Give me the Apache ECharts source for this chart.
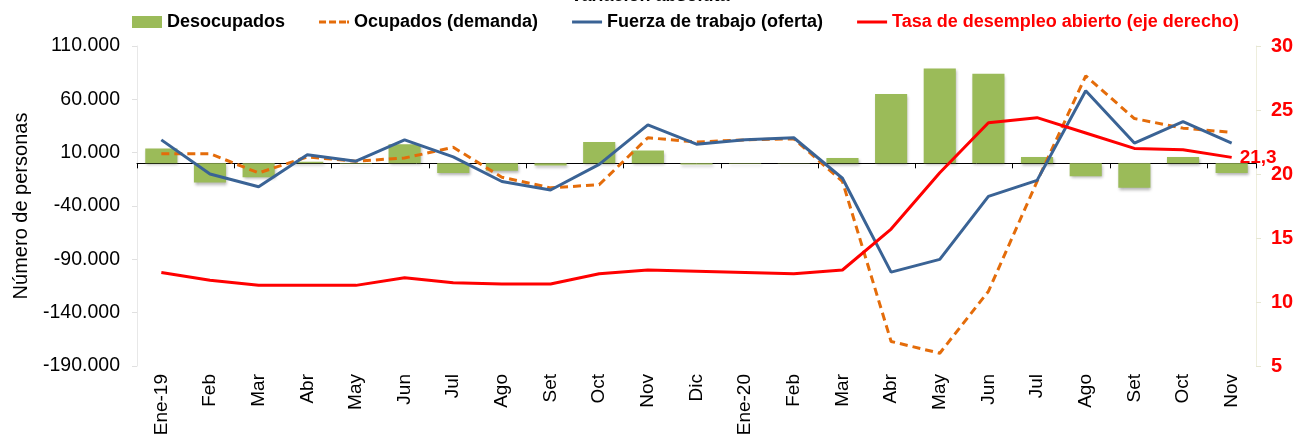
<!DOCTYPE html>
<html>
<head>
<meta charset="utf-8">
<script src="https://cdn.jsdelivr.net/npm/echarts@6/dist/echarts.min.js"></script>
<style>
html,body{margin:0;padding:0;background:#fff;}
#chart{width:1300px;height:441px;}
</style>
</head>
<body>
<div id="chart"></div>
<script>
const categories = ['Ene-19','Feb','Mar','Abr','May','Jun','Jul','Ago','Set','Oct','Nov','Dic','Ene-20','Feb','Mar','Abr','May','Jun','Jul','Ago','Set','Oct','Nov'];
const desocupados = [14000,-18000,-13000,1500,-500,18000,-9000,-7000,-2000,20000,12000,-1000,-500,300,5000,65000,89000,84000,6000,-12000,-23000,6000,-9000];
const ocupados = [9000,9000,-9000,6000,2000,5000,15000,-13000,-23000,-20000,24000,20000,22000,23000,-17000,-167000,-178000,-120000,-17000,82000,42000,33000,29000];
const fuerza = [22000,-10000,-22000,8000,2000,22000,6000,-17000,-25000,-1000,36000,18000,22000,24000,-14000,-102000,-90000,-31000,-16000,68000,19000,39000,19000];
const tasa = [12.3,11.7,11.3,11.3,11.3,11.9,11.5,11.4,11.4,12.2,12.5,12.4,12.3,12.2,12.5,15.7,20.1,24.0,24.4,23.2,22.0,21.9,21.3];
const leftTicks = {min:-190000, max:110000, interval:50000};
const rightTicks = {min:5, max:30, interval:5};

function fmtThousands(v){
  const s = Math.abs(Math.round(v)).toString().replace(/\B(?=(\d{3})+(?!\d))/g,'.');
  return (v<0?'-':'') + s;
}
const FONT = '"Liberation Sans", Arial, sans-serif';
const chart = echarts.init(document.getElementById('chart'));
const ICON_SOLID = 'path://M0,0h30v3h-30z';
const ICON_DASH = 'path://M0,0h7v3h-7z M10,0h7v3h-7z M20,0h7v3h-7z M28,0h2v3h-2z';

chart.setOption({
  animation:false,
  backgroundColor:'#ffffff',
  title:{text:'Variación absoluta', left:'center', top:-18,
    textStyle:{fontFamily:FONT, fontWeight:'bold', fontSize:18, color:'#000'}},
  legend:{
    left:127, top:8, itemWidth:30, itemHeight:12, itemGap:34,
    textStyle:{fontFamily:FONT, fontWeight:'bold', fontSize:18, color:'#000'},
    data:[
      {name:'Desocupados', icon:'rect'},
      {name:'Ocupados (demanda)', icon:ICON_DASH},
      {name:'Fuerza de trabajo (oferta)', icon:ICON_SOLID},
      {name:'Tasa de desempleo abierto (eje derecho)', icon:ICON_SOLID, textStyle:{color:'#FF0000'}}
    ]
  },
  grid:{left:137, right:44, top:46, bottom:75, containLabel:false},
  xAxis:[
    {type:'category', data:categories, boundaryGap:true, position:'bottom',
     axisLine:{show:false, onZero:false}, axisTick:{show:false},
     axisLabel:{rotate:90, fontFamily:FONT, fontSize:19, color:'#000', margin:8, interval:0},
     splitLine:{show:false}},
    {type:'category', data:categories, boundaryGap:true, position:'bottom',
     axisLine:{show:true, onZero:true, onZeroAxisIndex:0, lineStyle:{color:'#000', width:1}},
     axisTick:{show:true, length:5, lineStyle:{color:'#000'}},
     axisLabel:{show:false}, splitLine:{show:false}}
  ],
  yAxis:[
    {type:'value', position:'left', min:leftTicks.min, max:leftTicks.max, interval:leftTicks.interval,
     name:'Número de personas', nameLocation:'middle', nameGap:106, nameRotate:90,
     nameTextStyle:{fontFamily:FONT, fontSize:20, color:'#000'},
     axisLine:{show:true, lineStyle:{color:'#E8E8E8'}},
     axisTick:{show:true, length:5, lineStyle:{color:'#E0E0E0'}},
     axisLabel:{formatter:fmtThousands, fontFamily:FONT, fontSize:19.5, color:'#000', margin:17},
     splitLine:{show:false}},
    {type:'value', position:'right', min:rightTicks.min, max:rightTicks.max, interval:rightTicks.interval,
     axisLine:{show:true, lineStyle:{color:'#EEEEDD'}},
     axisTick:{show:true, length:5, lineStyle:{color:'#E6E6D2'}},
     axisLabel:{fontFamily:FONT, fontSize:20, fontWeight:'bold', color:'#FF0000', margin:15},
     splitLine:{show:false}}
  ],
  series:[
    {name:'Desocupados', type:'bar', xAxisIndex:0, yAxisIndex:0, data:desocupados,
     barWidth:'66%',
     itemStyle:{color:'#9BBB59', shadowBlur:3, shadowColor:'rgba(0,0,0,0.3)', shadowOffsetX:1, shadowOffsetY:2}},
    {name:'Ocupados (demanda)', type:'line', xAxisIndex:0, yAxisIndex:0, data:ocupados,
     symbol:'none', lineStyle:{color:'#E46C0A', width:3, type:[8,5]}, itemStyle:{color:'#E46C0A'}},
    {name:'Fuerza de trabajo (oferta)', type:'line', xAxisIndex:0, yAxisIndex:0, data:fuerza,
     symbol:'none', lineStyle:{color:'#3A6395', width:3}, itemStyle:{color:'#3A6395'}},
    {name:'Tasa de desempleo abierto (eje derecho)', type:'line', xAxisIndex:0, yAxisIndex:1, data:tasa,
     symbol:'none', lineStyle:{color:'#FF0000', width:3}, itemStyle:{color:'#FF0000'},
     endLabel:{show:true, distance:8, formatter: p => String(p.value).replace('.',','),
       color:'#FF0000', fontWeight:'bold', fontSize:19, fontFamily:FONT}}
  ]
});
</script>
</body>
</html>
